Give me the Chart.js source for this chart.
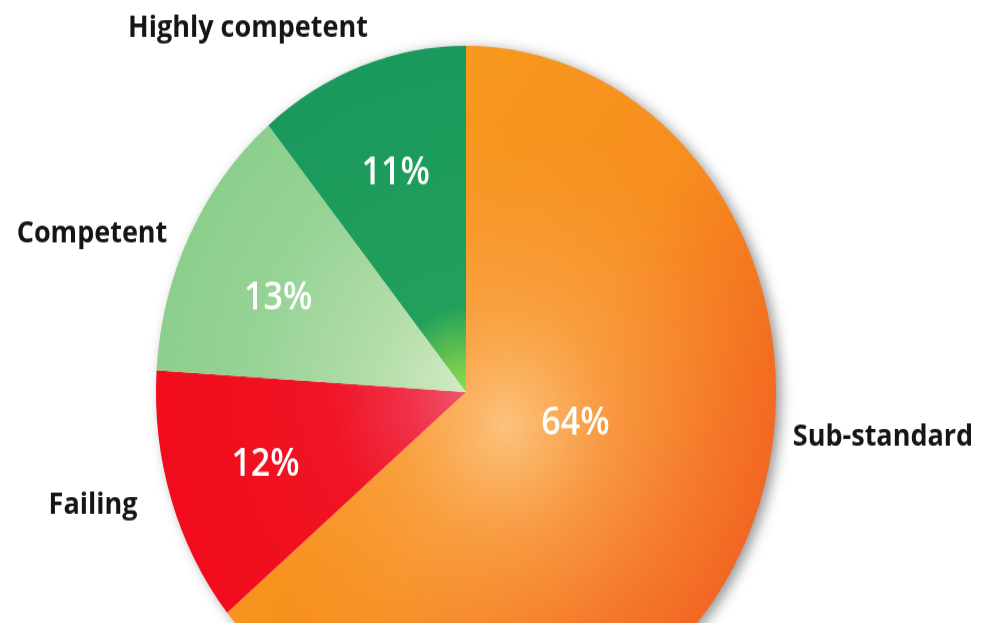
<!DOCTYPE html>
<html>
<head>
<meta charset="utf-8">
<script src="https://cdn.jsdelivr.net/npm/chart.js@4/dist/chart.umd.min.js"></script>
<style>
    html, body { margin: 0; padding: 0; background: #fff; overflow: hidden; }
    body { width: 983px; height: 623px; }
    /* the source picture is a little taller than wide, so the pie is stretched */
    .wrap {
        width: 983px;
        height: 702px;
        transform: scaleY(1.117);
        transform-origin: 0 0;
    }
</style>
</head>
<body>
<div class="wrap"><canvas id="pieChart"></canvas></div>
<script>
// Data (clockwise from 12 o'clock)
const categories = ["Sub-standard", "Failing", "Competent", "Highly competent"];
const shares = [64, 12, 13, 11];
const valueLabels = ["64%", "12%", "13%", "11%"];

// Slice colours: radial stops from centre to rim
const sliceStops = [
    null, // orange is done with a linear gradient + highlight
    [[0, "#ef5468"], [0.2, "#f03048"], [0.45, "#f01424"], [1, "#f00c1c"]],
    [[0, "#d3ebc4"], [0.3, "#b4ddaa"], [0.7, "#96d395"], [1, "#8ccf8c"]],
    [[0, "#8edb4c"], [0.1, "#6cc64f"], [0.25, "#22a05b"], [1, "#19995c"]]
];

const RADIUS = 310;

function sliceColor(c) {
    const chart = c.chart;
    const area = chart.chartArea;
    if (!area) return "#f7941d";
    const g = chart.ctx;
    const cx = (area.left + area.right) / 2;
    const cy = (area.top + area.bottom) / 2;
    if (c.dataIndex === 0) {
        const lin = g.createLinearGradient(cx - 100, cy - 200, cx + 300, cy + 100);
        lin.addColorStop(0, "#f8991d");
        lin.addColorStop(0.5, "#f78e1f");
        lin.addColorStop(0.85, "#f36d21");
        lin.addColorStop(1, "#f26622");
        return lin;
    }
    const rad = g.createRadialGradient(cx, cy, 0, cx, cy, RADIUS);
    sliceStops[c.dataIndex].forEach(s => rad.addColorStop(s[0], s[1]));
    return rad;
}

// shadow under the pie + light spot on the orange slice
const pieDecor = {
    id: "pieDecor",
    beforeDatasetsDraw(chart) {
        const arc = chart.getDatasetMeta(0).data[0];
        const g = chart.ctx;
        g.save();
        g.shadowColor = "rgba(0,0,0,0.45)";
        g.shadowBlur = 14;
        g.shadowOffsetX = 5;
        g.shadowOffsetY = 3;
        g.fillStyle = "#fff";
        g.beginPath();
        g.arc(arc.x, arc.y, arc.outerRadius - 1, 0, Math.PI * 2);
        g.fill();
        g.restore();
    },
    afterDatasetsDraw(chart) {
        const arc = chart.getDatasetMeta(0).data[0];
        const g = chart.ctx;
        g.save();
        g.beginPath();
        g.moveTo(arc.x, arc.y);
        g.arc(arc.x, arc.y, arc.outerRadius, arc.startAngle, arc.endAngle);
        g.closePath();
        g.clip();
        const hx = arc.x + 40, hy = arc.y + 30;
        const rad = g.createRadialGradient(hx, hy, 0, hx, hy, 270);
        rad.addColorStop(0, "rgba(253,200,135,0.9)");
        rad.addColorStop(0.4, "rgba(251,175,95,0.5)");
        rad.addColorStop(1, "rgba(250,160,70,0)");
        g.fillStyle = rad;
        g.fillRect(arc.x - arc.outerRadius, arc.y - arc.outerRadius, arc.outerRadius * 2, arc.outerRadius * 2);
        g.restore();
    }
};

// percentage inside each slice, category names outside
const pieLabels = {
    id: "pieLabels",
    afterDraw(chart, args, opts) {
        const g = chart.ctx;
        const arcs = chart.getDatasetMeta(0).data;
        g.save();
        g.textAlign = "center";
        g.textBaseline = "middle";

        g.fillStyle = "#fff";
        g.font = "600 34px 'Open Sans'";
        arcs.forEach((arc, i) => {
            const mid = (arc.startAngle + arc.endAngle) / 2;
            const f = opts.inner[i];
            const x = arc.x + Math.cos(mid) * arc.outerRadius * f[0] + f[1];
            const y = arc.y + Math.sin(mid) * arc.outerRadius * f[0] + f[2];
            g.fillText(valueLabels[i], x, y);
        });

        g.fillStyle = "#151515";
        g.font = "bold 27px 'Open Sans'";
        opts.outer.forEach((p, i) => {
            g.fillText(categories[i], p[0], p[1]);
        });
        g.restore();
    }
};

const ctx = document.getElementById("pieChart");

new Chart(ctx, {
    type: "pie",
    data: {
        labels: categories,
        datasets: [
            {
                data: shares,
                backgroundColor: sliceColor,
                borderWidth: 0,
                hoverOffset: 0
            }
        ]
    },
    options: {
        responsive: true,
        maintainAspectRatio: false,
        animation: false,
        radius: RADIUS,
        layout: {
            padding: { left: 0, right: 51, top: 0, bottom: 0 }
        },
        events: [],
        plugins: {
            legend: { display: false },
            tooltip: { enabled: false },
            pieLabels: {
                inner: [[0.39, 0, -23], [0.68, 0, 0], [0.68, 0, 12], [0.67, 0, 0]],
                outer: [[883, 391], [93, 452], [92, 209], [248, 25]]
            }
        }
    },
    plugins: [pieDecor, pieLabels]
});
</script>
</body>
</html>
